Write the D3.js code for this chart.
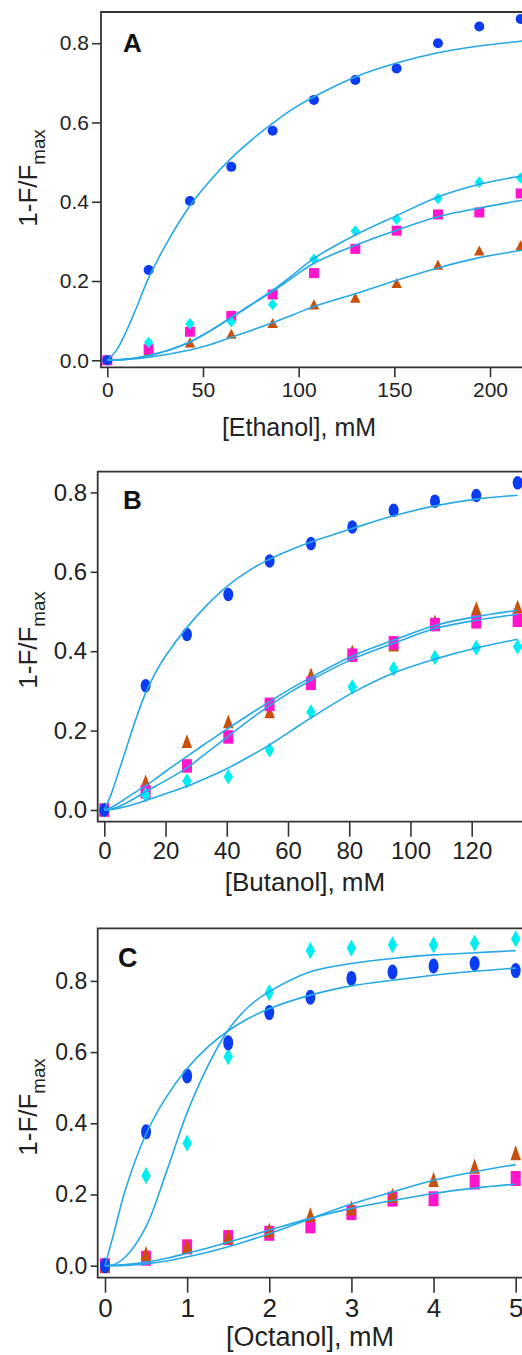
<!DOCTYPE html>
<html><head><meta charset="utf-8">
<script src="https://cdn.jsdelivr.net/npm/d3@7"></script>
<style>html,body{margin:0;padding:0;background:#fff;}svg{display:block;}</style>
</head><body>
<script>
// ---------- DATA ----------
// Panel A: Ethanol (mM)
const ethanolX = [0, 21.6, 43.2, 64.8, 86.4, 108, 129.6, 151.2, 172.8, 194.4, 216];
const ethanolCircle   = [0, 0.228, 0.402, 0.488, 0.579, 0.657, 0.707, 0.736, 0.800, 0.842, 0.861];
const ethanolDiamond  = [0, 0.045, 0.092, 0.097, 0.141, 0.255, 0.326, 0.356, 0.408, 0.449, 0.460];
const ethanolSquare   = [0, 0.028, 0.072, 0.112, 0.166, 0.220, 0.281, 0.327, 0.368, 0.373, 0.421];
const ethanolTriangle = [0, 0.024, 0.044, 0.066, 0.093, 0.140, 0.157, 0.194, 0.240, 0.276, 0.289];
// fitted curves
const ethanolFitX        = [0, 5, 10, 15, 21.6, 32.4, 43.2, 54, 64.8, 75.6, 86.4, 97.2, 108, 129.6, 151.2, 172.8, 194.4, 216, 225];
const ethanolFitCircle   = [0, 0.027, 0.074, 0.130, 0.208, 0.307, 0.39, 0.455, 0.51, 0.557, 0.598, 0.635, 0.665, 0.715, 0.750, 0.776, 0.793, 0.805, 0.810];
const ethanolFitDiamond  = [0, 0.001, 0.003, 0.006, 0.012, 0.026, 0.046, 0.075, 0.108, 0.142, 0.177, 0.216, 0.257, 0.316, 0.365, 0.412, 0.444, 0.465, 0.473];
const ethanolFitSquare   = [0, 0.001, 0.003, 0.006, 0.012, 0.026, 0.046, 0.075, 0.108, 0.141, 0.174, 0.210, 0.245, 0.290, 0.328, 0.362, 0.384, 0.403, 0.410];
const ethanolFitTriangle = [0, 0.0005, 0.002, 0.004, 0.008, 0.016, 0.026, 0.040, 0.058, 0.076, 0.095, 0.115, 0.136, 0.168, 0.202, 0.233, 0.259, 0.277, 0.284];
const ethanolTicks = [0, 50, 100, 150, 200];

// Panel B: Butanol (mM)
const butanolX = [0, 13.5, 27, 40.5, 54, 67.5, 81, 94.5, 108, 121.5, 135];
const butanolCircle   = [0, 0.313, 0.442, 0.543, 0.627, 0.671, 0.713, 0.755, 0.778, 0.792, 0.824];
const butanolDiamond  = [0, 0.038, 0.073, 0.084, 0.151, 0.247, 0.310, 0.356, 0.384, 0.409, 0.411];
const butanolSquare   = [0, 0.046, 0.111, 0.184, 0.266, 0.319, 0.390, 0.421, 0.467, 0.474, 0.478];
const butanolTriangle = [0, 0.071, 0.172, 0.222, 0.247, 0.340, 0.398, 0.415, 0.474, 0.507, 0.511];
const butanolFitX        = [0, 2, 4, 6.75, 10, 13.5, 17, 20, 27, 33.75, 40.5, 47.25, 54, 60.75, 67.5, 81, 94.5, 108, 121.5, 135];
const butanolFitCircle   = [0, 0.035, 0.08, 0.145, 0.222, 0.295, 0.35, 0.388, 0.46, 0.518, 0.566, 0.603, 0.632, 0.655, 0.675, 0.709, 0.741, 0.766, 0.783, 0.793];
const butanolFitDiamond  = [0, 0.0008, 0.003, 0.008, 0.015, 0.024, 0.033, 0.041, 0.060, 0.082, 0.106, 0.134, 0.164, 0.198, 0.232, 0.295, 0.345, 0.380, 0.408, 0.430];
const butanolFitSquare   = [0, 0.002, 0.006, 0.016, 0.030, 0.046, 0.061, 0.074, 0.106, 0.146, 0.186, 0.226, 0.263, 0.297, 0.327, 0.380, 0.420, 0.457, 0.478, 0.493];
const butanolFitTriangle = [0, 0.006, 0.014, 0.028, 0.044, 0.061, 0.080, 0.097, 0.135, 0.171, 0.206, 0.240, 0.273, 0.305, 0.334, 0.388, 0.428, 0.465, 0.487, 0.503];
const butanolTicks = [0, 20, 40, 60, 80, 100, 120];

// Panel C: Octanol (mM)
const octanolX = [0, 0.5, 1, 1.5, 2, 2.5, 3, 3.5, 4, 4.5, 5];
const octanolCircle   = [0, 0.376, 0.533, 0.626, 0.711, 0.754, 0.807, 0.825, 0.842, 0.849, 0.829];
const octanolDiamond  = [0, 0.253, 0.344, 0.587, 0.767, 0.885, 0.892, 0.901, 0.901, 0.906, 0.918];
const octanolSquare   = [0, 0.021, 0.053, 0.079, 0.091, 0.112, 0.149, 0.187, 0.188, 0.235, 0.245];
const octanolTriangle = [0, 0.033, 0.053, 0.080, 0.098, 0.142, 0.161, 0.196, 0.241, 0.278, 0.316];
const octanolFitX        = [0, 0.1, 0.25, 0.5, 0.75, 1, 1.25, 1.5, 1.75, 2, 2.5, 3, 3.5, 4, 4.5, 5];
const octanolFitCircle   = [0, 0.085, 0.215, 0.37, 0.475, 0.554, 0.614, 0.66, 0.695, 0.722, 0.760, 0.786, 0.802, 0.816, 0.827, 0.836];
const octanolFitDiamond  = [0, 0.002, 0.025, 0.11, 0.265, 0.43, 0.56, 0.662, 0.728, 0.77, 0.826, 0.849, 0.863, 0.873, 0.879, 0.885];
const octanolFitSquare   = [0, 0.001, 0.003, 0.010, 0.021, 0.035, 0.050, 0.066, 0.083, 0.100, 0.133, 0.161, 0.183, 0.203, 0.218, 0.229];
const octanolFitTriangle = [0, 0.0002, 0.001, 0.005, 0.013, 0.025, 0.038, 0.053, 0.071, 0.090, 0.132, 0.173, 0.207, 0.240, 0.264, 0.284];
const octanolTicks = [0, 1, 2, 3, 4, 5];

const yTicks = [0, 0.2, 0.4, 0.6, 0.8];
const panelLetters = ["A", "B", "C"];
const xTitles = ["[Ethanol], mM", "[Butanol], mM", "[Octanol], mM"];

// ---------- STYLE ----------
const W = 522, H = 1355;
const FONT = "'Liberation Sans', Arial, Helvetica, sans-serif";
const colors = {circle: "#0a3cf2", diamond: "#00eef2", square: "#ff16cc", triangle: "#c9500c"};
const lineColor = "#25a8e6";
const axisColor = "#333333";

const svg = d3.select("body").append("svg").attr("width", W).attr("height", H)
  .attr("font-family", FONT);

function markerPath(type, w, h) {
  const a = w / 2, b = h / 2;
  if (type === "circle") {
    return `M${-a},0A${a},${b} 0 1,0 ${a},0A${a},${b} 0 1,0 ${-a},0Z`;
  }
  if (type === "square") return `M${-a},${-b}H${a}V${b}H${-a}Z`;
  if (type === "diamond") return `M0,${-b}L${a},0L0,${b}L${-a},0Z`;
  return `M0,${-b}L${a},${b * 0.85}L${-a},${b * 0.85}Z`;
}

const panels = [
  {
    xs: ethanolX, circle: ethanolCircle, diamond: ethanolDiamond, square: ethanolSquare, triangle: ethanolTriangle,
    fx: ethanolFitX, fCircle: ethanolFitCircle, fDiamond: ethanolFitDiamond, fSquare: ethanolFitSquare, fTriangle: ethanolFitTriangle,
    xTicks: ethanolTicks, xFmt: d3.format("d"),
    xDom: [0, 200], xRange: [107.3, 490], yRange: [360.3, 43.2],
    frame: {l: 101, t: 12, b: 367.3},
    yTick: 9, xTick: 10, yPad: 3, xPad: 5, yFont: 21, xFont: 21, sy: 1.0,
    letter: {x: 123, y: 52, size: 26},
    title: {x: 299, y: 436, size: 25},
    ytitle: {x: 37, y: 178, size: 26},
    order: ["triangle", "square", "diamond", "circle"]
  },
  {
    xs: butanolX, circle: butanolCircle, diamond: butanolDiamond, square: butanolSquare, triangle: butanolTriangle,
    fx: butanolFitX, fCircle: butanolFitCircle, fDiamond: butanolFitDiamond, fSquare: butanolFitSquare, fTriangle: butanolFitTriangle,
    xTicks: butanolTicks, xFmt: d3.format("d"),
    xDom: [0, 120], xRange: [104.3, 471.7], yRange: [810, 492.4],
    frame: {l: 97.7, t: 471.7, b: 821.7},
    yTick: 7, xTick: 15, yPad: 3.5, xPad: 5, yFont: 24, xFont: 24, sy: 1.35,
    letter: {x: 123, y: 509, size: 26},
    title: {x: 305, y: 891, size: 26},
    ytitle: {x: 37, y: 640, size: 26},
    order: ["triangle", "square", "diamond", "circle"]
  },
  {
    xs: octanolX, circle: octanolCircle, diamond: octanolDiamond, square: octanolSquare, triangle: octanolTriangle,
    fx: octanolFitX, fCircle: octanolFitCircle, fDiamond: octanolFitDiamond, fSquare: octanolFitSquare, fTriangle: octanolFitTriangle,
    xTicks: octanolTicks, xFmt: d3.format("d"),
    xDom: [0, 5], xRange: [105, 515.7], yRange: [1265.7, 980.9],
    frame: {l: 97.7, t: 928.3, b: 1277.7},
    yTick: 7, xTick: 15, yPad: 3.5, xPad: 5.5, yFont: 23, xFont: 26, sy: 1.5,
    letter: {x: 118, y: 966.7, size: 27},
    title: {x: 310, y: 1346, size: 27},
    ytitle: {x: 37, y: 1107, size: 26},
    order: ["square", "triangle", "diamond", "circle"]
  }
];

panels.forEach((p, i) => {
  const g = svg.append("g");
  const x = d3.scaleLinear().domain(p.xDom).range(p.xRange);
  const y = d3.scaleLinear().domain([0, 0.8]).range(p.yRange);
  const R = W + 10;

  g.append("path")
    .attr("d", `M${R},${p.frame.t}H${p.frame.l}V${p.frame.b}H${R}`)
    .attr("fill", "none").attr("stroke", axisColor).attr("stroke-width", 1.8);

  const ya = g.append("g").attr("transform", `translate(${p.frame.l},0)`)
    .call(d3.axisLeft(y).tickValues(yTicks).tickFormat(d3.format(".1f"))
      .tickSize(p.yTick).tickPadding(p.yPad));
  ya.select(".domain").remove();
  ya.selectAll("line").attr("stroke", axisColor).attr("stroke-width", 1.6);
  ya.selectAll("text").attr("font-size", p.yFont).attr("font-family", FONT).attr("fill", "#222");

  const xa = g.append("g").attr("transform", `translate(0,${p.frame.b})`)
    .call(d3.axisBottom(x).tickValues(p.xTicks).tickFormat(p.xFmt)
      .tickSize(p.xTick).tickPadding(p.xPad));
  xa.select(".domain").remove();
  xa.selectAll("line").attr("stroke", axisColor).attr("stroke-width", 1.6);
  xa.selectAll("text").attr("font-size", p.xFont).attr("font-family", FONT).attr("fill", "#222");

  g.append("text").attr("x", p.letter.x).attr("y", p.letter.y)
    .attr("font-size", p.letter.size).attr("font-weight", "bold").attr("fill", "#111")
    .text(panelLetters[i]);

  g.append("text").attr("x", p.title.x).attr("y", p.title.y)
    .attr("text-anchor", "middle").attr("font-size", p.title.size).attr("fill", "#222")
    .text(xTitles[i]);

  const yt = g.append("text")
    .attr("transform", `translate(${p.ytitle.x},${p.ytitle.y}) rotate(-90)`)
    .attr("text-anchor", "middle").attr("font-size", p.ytitle.size).attr("fill", "#222");
  yt.append("tspan").text("1-F/F");
  yt.append("tspan").attr("font-size", p.ytitle.size * 0.72).attr("dy", p.ytitle.size * 0.3).text("max");

  const sizes = {circle: [10, 10], square: [10, 10], diamond: [9.5, 11.5], triangle: [10.5, 11]};
  p.order.forEach(type => {
    const vals = p[type];
    const [w, h] = sizes[type];
    g.append("g").selectAll("path").data(p.xs.map((xv, k) => ({x: xv, y: vals[k]})))
      .join("path")
      .attr("d", markerPath(type, w, h * p.sy))
      .attr("transform", d => `translate(${x(d.x)},${y(d.y)})`)
      .attr("fill", colors[type]);
  });

  const line = d3.line().x(d => x(d.x)).y(d => y(d.y)).curve(d3.curveCatmullRom.alpha(0.5));
  ["fCircle", "fDiamond", "fSquare", "fTriangle"].forEach(key => {
    g.append("path")
      .datum(p.fx.map((xv, k) => ({x: xv, y: p[key][k]})))
      .attr("d", line).attr("fill", "none")
      .attr("stroke", lineColor).attr("stroke-width", 1.6);
  });
});
</script>
</body></html>
